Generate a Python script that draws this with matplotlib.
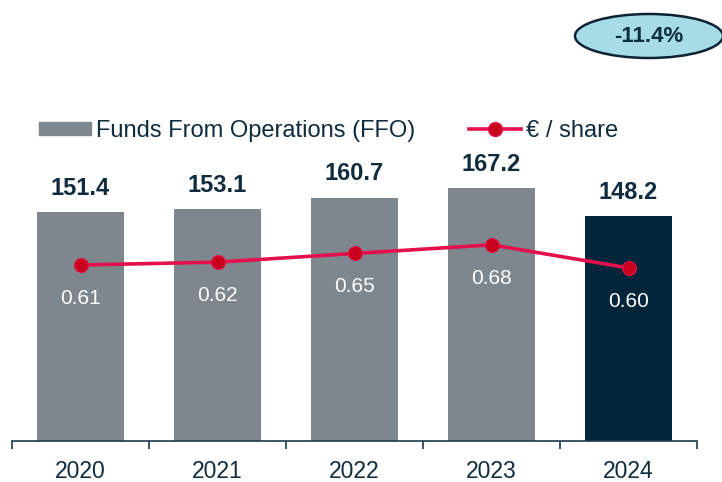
import matplotlib
matplotlib.use("Agg")
import matplotlib.pyplot as plt
from matplotlib.patches import Ellipse, Patch
from matplotlib.lines import Line2D

plt.rcParams['font.family'] = ['Liberation Sans', 'DejaVu Sans']

# data
years     = ["2020", "2021", "2022", "2023", "2024"]
ffo       = [151.4, 153.1, 160.7, 167.2, 148.2]
per_share = [0.61, 0.62, 0.65, 0.68, 0.60]
change    = "-11.4%"

GREY  = "#7e878d"
NAVY  = "#022539"
TEXT  = "#0f2c3f"
RED   = "#e3104c"
DOT   = "#c8001c"

W, H = 722, 482
fig = plt.figure(figsize=(W / 100, H / 100), dpi=100)
ax = fig.add_axes([12 / W, 41 / H, 685 / W, 441 / H])

x = list(range(len(years)))
colors = [GREY] * (len(years) - 1) + [NAVY]
ax.bar(x, ffo, width=0.63, color=colors, zorder=2)
for xi, v in zip(x, ffo):
    ax.annotate(f"{v:.1f}", (xi, v), xytext=(0, 17), textcoords="offset points",
                ha="center", va="center", fontsize=17, fontweight="bold", color=TEXT)

ax.set_xlim(-0.5, len(years) - 0.5)
ax.set_ylim(0, 441 / 1.515)
for s in ("top", "right", "left"):
    ax.spines[s].set_visible(False)
ax.spines["bottom"].set_color("#1d3a4c")
ax.spines["bottom"].set_linewidth(1.2)
ax.set_yticks([])
ax.set_xticks(x)
ax.set_xticklabels(years, fontsize=16.5, color=TEXT)
ax.tick_params(axis="x", which="major", length=0, pad=13.5)
ax.set_xticks([i - 0.5 for i in range(len(years) + 1)], minor=True)
ax.tick_params(axis="x", which="minor", length=6, width=1.2, color="#1d3a4c")

# per share line on twin axis
ax2 = ax.twinx()
ax2.set_ylim(0, 441 / 288.5)
ax2.axis("off")
ax2.plot(x, per_share, color=RED, lw=2.6, marker="o", markersize=10,
         markerfacecolor=DOT, markeredgecolor=RED, markeredgewidth=0.8, zorder=3)
for xi, v in zip(x, per_share):
    ax2.annotate(f"{v:.2f}", (xi, v), xytext=(0, -24), textcoords="offset points",
                 ha="center", va="center", fontsize=15, color="white")

# legend
handles = [Patch(color=GREY),
           Line2D([], [], color=RED, lw=2.6, marker="o", markersize=10,
                  markerfacecolor=DOT, markeredgecolor=RED)]
fig.legend(handles, ["Funds From Operations (FFO)", "€ / share"],
           loc="center left", bbox_to_anchor=(18 / W, 1 - 131 / H), ncol=2,
           frameon=False, fontsize=17, handlelength=2.2, handleheight=0.5,
           handletextpad=0.2, columnspacing=2.3, labelcolor=TEXT)

# change bubble
fig.add_artist(Ellipse((649 / W, 1 - 36 / H), 148 / W, 44 / H,
                       transform=fig.transFigure, facecolor="#a6dbe8",
                       edgecolor="#0d2233", lw=1.8))
fig.text(649 / W, 1 - 36 / H, change, ha="center", va="center",
         fontsize=16, fontweight="bold", color=TEXT)

fig.savefig("out.png", dpi=100)
